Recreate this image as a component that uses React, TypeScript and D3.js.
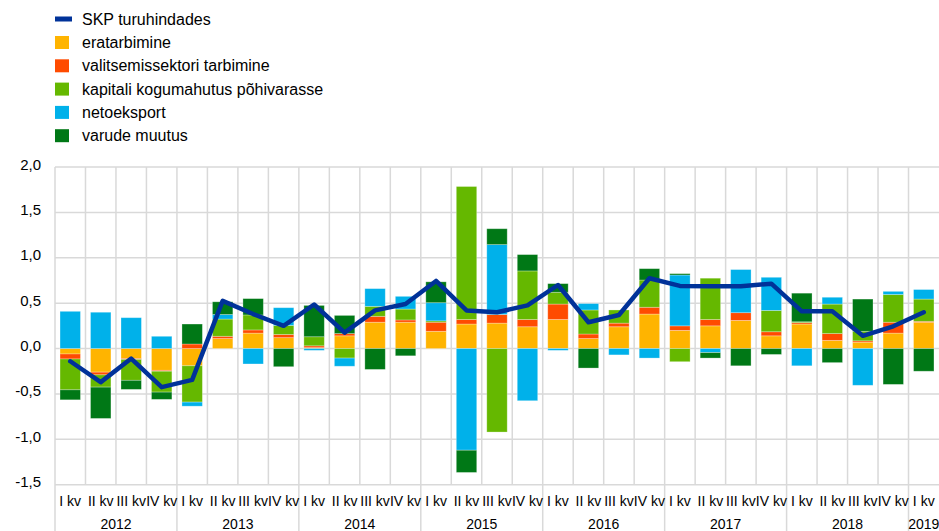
import React from 'react';
import * as d3 from 'd3';

const width = 939, height = 531,
    margin = { top: 167, right: 0, left: 55, bottom: 46 };

// quarters 2012 I kv .. 2019 I kv
const years = ['2012', '2013', '2014', '2015', '2016', '2017', '2018', '2019'];
const quarterNames = ['I kv', 'II kv', 'III kv', 'IV kv'];
const quarters = years.flatMap(y => quarterNames.map(q => `${y} ${q}`)).slice(0, 29);

const seriesKeys = ['era', 'valits', 'kapitali', 'neto', 'varude'];
const seriesLabels = ['eratarbimine', 'valitsemissektori tarbimine', 'kapitali kogumahutus põhivarasse', 'netoeksport', 'varude muutus'];
const seriesColors = ['#ffb400', '#ff4b00', '#65b800', '#00b1ea', '#007816'];

const era = [-0.06, -0.26, -0.11, -0.24, -0.19, 0.11, 0.17, 0.12, 0.01, 0.14, 0.29, 0.29, 0.19, 0.27, 0.28, 0.24, 0.32, 0.11, 0.24, 0.38, 0.20, 0.25, 0.31, 0.14, 0.27, 0.09, 0.07, 0.17, 0.29];
const valits = [-0.055, -0.03, -0.01, -0.01, 0.05, 0.025, 0.035, 0.035, 0.02, 0.025, 0.065, 0.025, 0.10, 0.05, 0.095, 0.08, 0.17, 0.05, 0.04, 0.075, 0.05, 0.07, 0.085, 0.045, 0.015, 0.075, 0.015, 0.12, 0.01];
const kapitali = [-0.34, -0.135, -0.23, -0.23, -0.40, 0.19, 0.165, 0.10, 0.10, -0.105, 0.11, 0.12, 0.015, 1.465, -0.92, 0.535, 0.13, 0.265, 0.145, 0.30, -0.145, 0.455, 0.0, 0.235, 0.01, 0.325, 0.105, 0.305, 0.245];
const neto = [0.41, 0.40, 0.34, 0.135, -0.045, 0.05, -0.17, 0.195, -0.02, -0.09, 0.195, 0.14, 0.20, -1.12, 0.77, -0.575, -0.02, 0.07, -0.07, -0.105, 0.56, -0.045, 0.475, 0.365, -0.19, 0.075, -0.405, 0.035, 0.105];
const varude = [-0.11, -0.345, -0.10, -0.08, 0.22, 0.14, 0.18, -0.20, 0.345, 0.20, -0.23, -0.08, 0.23, -0.245, 0.175, 0.18, 0.095, -0.215, 0.0, 0.125, 0.015, -0.06, -0.19, -0.065, 0.315, -0.155, 0.355, -0.395, -0.25];
const skp = [-0.14, -0.37, -0.11, -0.425, -0.345, 0.525, 0.38, 0.25, 0.485, 0.175, 0.42, 0.49, 0.745, 0.42, 0.40, 0.475, 0.70, 0.29, 0.37, 0.775, 0.69, 0.685, 0.685, 0.715, 0.41, 0.41, 0.14, 0.245, 0.40];

const yTicks = [-1.5, -1.0, -0.5, 0, 0.5, 1.0, 1.5, 2.0];

const font = 'Arial, "Liberation Sans", sans-serif';

export default function App() {
    // build rows for the stack
    const rows = quarters.map((q, i) => ({
        q, era: era[i], valits: valits[i], kapitali: kapitali[i], neto: neto[i], varude: varude[i]
    }));

    const stacked = d3.stack()
        .keys(seriesKeys)
        .offset(d3.stackOffsetDiverging)(rows as any);

    const xScale = d3.scaleBand()
        .domain(quarters)
        .range([margin.left, width - margin.right])
        .paddingInner(0.33)
        .paddingOuter(0.165);

    const yScale = d3.scaleLinear()
        .domain([-1.5, 2])
        .range([height - margin.bottom - 0.3, margin.top]);

    const step = xScale.step();
    const catLeft = (q: string) => (xScale(q) as number) - step * xScale.paddingOuter();
    const center = (q: string) => (xScale(q) as number) + xScale.bandwidth() / 2;

    const line = d3.line<number>()
        .x((d, i) => center(quarters[i]))
        .y(d => yScale(d));

    const axisY = yScale(-1.5);
    const fmt = (v: number) => d3.format('.1f')(v).replace('.', ',').replace('−', '-');

    return (
        <svg width={width} height={height} style={{ position: 'absolute', left: 0, top: 0, background: '#fff' }}
            fontFamily={font}>
            {/* legend */}
            <g>
                <rect x={55} y={16.5} width={17} height={5} fill="#003299" />
                <text x={82} y={19} fontSize={16} dominantBaseline="central" fill="#000">SKP turuhindades</text>
                {seriesLabels.map((l, i) => (
                    <g key={l} transform={`translate(0, ${42.5 + i * 23.3})`}>
                        <rect x={55} y={-6.5} width={14} height={13} fill={seriesColors[i]} />
                        <text x={82} y={0} fontSize={16} dominantBaseline="central" fill="#000">{l}</text>
                    </g>
                ))}
            </g>

            {/* gridlines */}
            {yTicks.map(t => (
                <line key={t} x1={margin.left} x2={width} y1={yScale(t)} y2={yScale(t)} stroke="#d9d9d9" strokeWidth={1.5} />
            ))}
            {quarters.map((q, i) => (
                <line key={q} x1={catLeft(q)} x2={catLeft(q)} y1={margin.top} y2={i % 4 === 0 ? height : axisY}
                    stroke="#d9d9d9" strokeWidth={1.5} />
            ))}

            {/* y labels */}
            {yTicks.map(t => (
                <text key={t} x={41} y={yScale(t) - 3} fontSize={15} textAnchor="end" dominantBaseline="central" fill="#000">{fmt(t)}</text>
            ))}

            {/* x labels */}
            {quarters.map((q, i) => (
                <text key={q} x={center(q)} y={501} fontSize={14} textAnchor="middle" dominantBaseline="central" fill="#000">
                    {quarterNames[i % 4]}
                </text>
            ))}
            {years.map((y, i) => {
                const first = quarters[i * 4];
                const n = Math.min(4, quarters.length - i * 4);
                const x = catLeft(first) + (n * step) / 2;
                return <text key={y} x={x} y={524} fontSize={14} textAnchor="middle" dominantBaseline="central" fill="#000">{y}</text>;
            })}

            {/* bars */}
            {stacked.map((s, si) => (
                <g key={s.key} fill={seriesColors[si]}>
                    {s.map((d, i) => {
                        const y0 = yScale(d[0]), y1 = yScale(d[1]);
                        if (Math.abs(y0 - y1) < 0.01) return null;
                        return <rect key={i} x={xScale(quarters[i])} width={xScale.bandwidth()}
                            y={Math.min(y0, y1)} height={Math.abs(y0 - y1)}
                            stroke="#ffffff" strokeOpacity={0.35} strokeWidth={0.8} />;
                    })}
                </g>
            ))}

            {/* GDP line */}
            <path d={line(skp) || ''} fill="none" stroke="#003299" strokeWidth={4.5} strokeLinejoin="round" strokeLinecap="round" />
        </svg>
    );
}
